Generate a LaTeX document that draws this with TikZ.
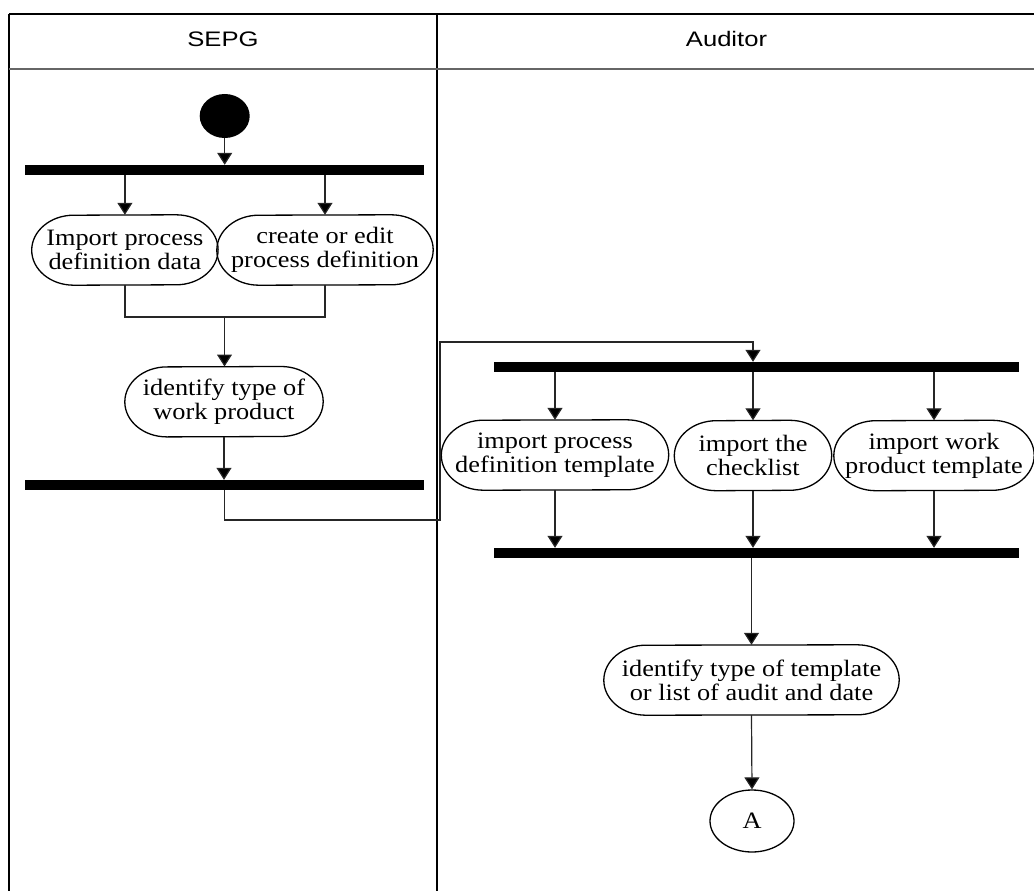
\documentclass[tikz,border=0pt]{standalone}
\usepackage{fontspec}
\setmainfont{Liberation Serif}
\newfontfamily\actfont[FakeStretch=1.12]{Liberation Serif}
\newfontfamily\headfont[FakeStretch=1.22]{Liberation Sans}
\usetikzlibrary{arrows.meta,calc,shapes.geometric}

\tikzset{
  flow/.style={line width=1.2pt, draw=black!85, -{Triangle[width=15pt,length=12pt,fill=black]}},
  link/.style={line width=1.2pt, draw=black!85},
  bar/.style={fill=black, inner sep=0pt, minimum height=10pt},
  actlbl/.style={font=\actfont\fontsize{23.5}{24}\selectfont, align=center, inner sep=0pt, minimum height=70pt},
  actline/.style={line width=1.3pt},
  lane/.style={line width=2pt},
  head/.style={font=\headfont\fontsize{21}{24}\selectfont, anchor=base, inner sep=0pt},
}

\newcommand{\actbox}[6]{%
  \node[actlbl, minimum width=#5pt] (#1) at (#2,#3) {#6};
  \draw[actline] ($(#1.north east)+(-#4pt,0)$)
     arc[start angle=90,end angle=-90,x radius=#4pt,y radius=35pt]
     -- ($(#1.south west)+(#4pt,0)$)
     arc[start angle=270,end angle=90,x radius=#4pt,y radius=35pt] -- cycle;}

\begin{document}
\begin{tikzpicture}[x=1pt,y=-1pt]
\useasboundingbox (0,0) rectangle (1034,891);

% swimlane frame
\draw[line width=2.6pt] (9,14) -- (1034,14);
\draw[lane] (9,14) -- (9,891);
\draw[lane] (437,14) -- (437,891);
\draw[line width=2pt, draw=black!60] (9,69) -- (1034,69);
\node[head] (hsepg) at (223,47) {SEPG};
\node[head] (haud) at (726.5,47) {Auditor};

% SEPG lane
\node[ellipse, fill=black, inner sep=0pt, minimum width=50pt, minimum height=44pt] (start) at (224.7,116) {};
\node[bar, minimum width=399pt] (b1) at (224.5,170) {};
\actbox{n1}{124.9}{250}{42}{186}{Import process\\definition data}
\actbox{n2}{325}{250}{42}{216}{create or edit\\process definition}
\actbox{n3}{224}{401.7}{42}{198}{identify type of\\work product}
\node[bar, minimum width=399pt] (b2) at (224.5,485) {};
\coordinate (m) at (224.5,317);
\coordinate (c1) at (440,520);
\coordinate (c2) at (440,342);

% Auditor lane
\node[bar, minimum width=525pt] (b3) at (756.5,367) {};
\actbox{n4}{555}{455}{42}{227}{import process\\definition template}
\actbox{n5}{753}{455.5}{42}{157}{import the\\checklist}
\actbox{n6}{934}{455.5}{42}{200}{import work\\product template}
\node[bar, minimum width=525pt] (b4) at (756.5,553) {};
\actbox{n7}{751.5}{680}{42}{295}{identify type of template\\or list of audit and date}
\node[ellipse, draw, line width=1.3pt, inner sep=0pt, minimum width=84pt, minimum height=62pt,
      font=\actfont\fontsize{23.5}{24}\selectfont] (A) at (752,821) {A};

% connectors
\draw[flow] (start.south) -- (start.south |- b1.north);
\draw[flow] (n1.north |- b1.south) -- (n1.north);
\draw[flow] (n2.north |- b1.south) -- (n2.north);
\draw[link] (n1.south) |- (n2.south |- m) -- (n2.south);
\draw[flow] (m) -- (m |- n3.north);
\draw[flow] (n3.south) -- (n3.south |- b2.north);
\draw[flow] (b2.south) |- (c1) -- (c2) -| (n5.north |- b3.north);
\draw[flow] (n4.north |- b3.south) -- (n4.north);
\draw[flow] (n5.north |- b3.south) -- (n5.north);
\draw[flow] (n6.north |- b3.south) -- (n6.north);
\draw[flow] (n4.south) -- (n4.south |- b4.north);
\draw[flow] (n5.south) -- (n5.south |- b4.north);
\draw[flow] (n6.south) -- (n6.south |- b4.north);
\draw[flow] (n7.north |- b4.south) -- (n7.north);
\draw[flow] (n7.south) -- (A.north);
\end{tikzpicture}
\end{document}
